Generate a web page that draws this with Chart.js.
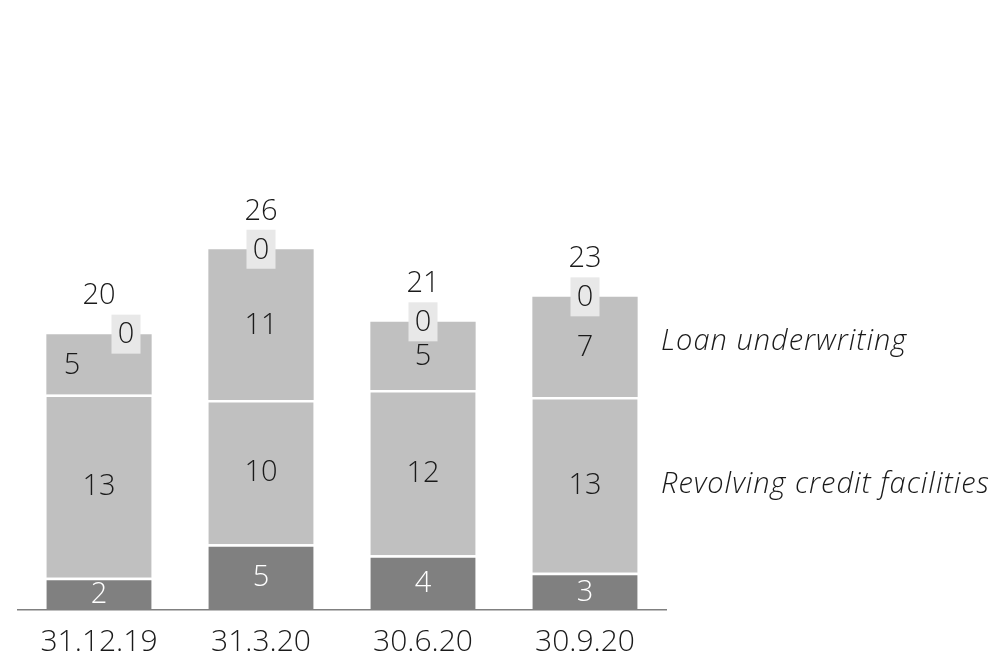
<!DOCTYPE html>
<html>
<head>
<meta charset="utf-8">
<script src="https://cdn.jsdelivr.net/npm/chart.js@4"></script>
<style>
  html, body { margin: 0; padding: 0; background: #fff; }
  #wrap { width: 994px; height: 658px; }
</style>
</head>
<body>
<div id="wrap"><canvas id="chart"></canvas></div>
<script>
const categories = ["31.12.19", "31.3.20", "30.6.20", "30.9.20"];

// bar heights
const otherHeights = [2.33, 4.73, 3.94, 2.69];
const revolvingHeights = [13.21, 10.4, 11.91, 12.66];
const underwritingHeights = [4.34, 10.87, 4.92, 7.22];
const zeroHeights = [0, 0, 0, 0];

// printed numbers
const otherLabels = [2, 5, 4, 3];
const revolvingLabels = [13, 10, 12, 13];
const underwritingLabels = [5, 11, 5, 7];
const zeroLabels = [0, 0, 0, 0];
const totalLabels = [20, 26, 21, 23];

const seriesNames = ["Revolving credit facilities", "Loan underwriting"];

const FONT = '"Open Sans", "DejaVu Sans", sans-serif';

const labelPlugin = {
  id: "segLabels",
  afterDatasetsDraw(chart) {
    const ctx = chart.ctx;
    const printed = [otherLabels, revolvingLabels, underwritingLabels];
    ctx.save();
    ctx.font = "300 29px " + FONT;
    ctx.textAlign = "center";
    ctx.textBaseline = "middle";

    printed.forEach((labels, di) => {
      chart.getDatasetMeta(di).data.forEach((bar, i) => {
        let x = bar.x;
        if (di === 2 && i === 0) x -= 27;
        ctx.fillStyle = di === 0 ? "#ffffff" : "#1a1a1a";
        ctx.fillText(String(labels[i]), x, (bar.y + bar.base) / 2 + 1);
      });
    });

    // zero boxes and totals on top of each bar
    chart.getDatasetMeta(3).data.forEach((bar, i) => {
      const x = bar.x + (i === 0 ? 27 : 0);
      ctx.fillStyle = "#e8e8e8";
      ctx.fillRect(x - 14.5, bar.y - 19.5, 29, 39);
      ctx.fillStyle = "#1a1a1a";
      ctx.fillText(String(zeroLabels[i]), x, bar.y + 1);
      ctx.fillText(String(totalLabels[i]), bar.x, bar.y - 38);
    });

    // series names to the right of the last bar
    ctx.font = "italic 300 29px " + FONT;
    ctx.letterSpacing = "1px";
    ctx.textAlign = "left";
    const last = categories.length - 1;
    const rev = chart.getDatasetMeta(1).data[last];
    const und = chart.getDatasetMeta(2).data[last];
    const xText = chart.chartArea.right - 5;
    ctx.fillText(seriesNames[1], xText, (und.y + und.base) / 2 - 5);
    ctx.fillText(seriesNames[0], xText, (rev.y + rev.base) / 2);
    ctx.restore();
  }
};

const bar = (label, data, color, border) => ({
  label,
  data,
  backgroundColor: color,
  borderColor: "#ffffff",
  borderWidth: border ? { top: 2.5, bottom: 0, left: 0, right: 0 } : 0,
  borderSkipped: false,
  barPercentage: 0.65,
  categoryPercentage: 1
});

new Chart(document.getElementById("chart"), {
  type: "bar",
  data: {
    labels: categories,
    datasets: [
      bar("Other", otherHeights, "#808080", true),
      bar(seriesNames[0], revolvingHeights, "#c0c0c0", true),
      bar(seriesNames[1], underwritingHeights, "#c0c0c0", false),
      bar("Zero", zeroHeights, "#e8e8e8", false)
    ]
  },
  options: {
    responsive: true,
    maintainAspectRatio: false,
    animation: false,
    layout: { padding: { left: 18, right: 328, top: 55, bottom: 0 } },
    plugins: {
      legend: { display: false },
      tooltip: { enabled: false }
    },
    scales: {
      x: {
        stacked: true,
        grid: { display: false, drawTicks: false },
        border: { display: true, color: "#808080", width: 1.5 },
        afterFit(scale) { scale.height = 48; },
        ticks: {
          color: "#1a1a1a",
          padding: 14,
          font: { family: FONT, size: 30, weight: "300" }
        }
      },
      y: {
        stacked: true,
        display: false,
        min: 0,
        max: 40
      }
    }
  },
  plugins: [labelPlugin]
});
</script>
</body>
</html>
